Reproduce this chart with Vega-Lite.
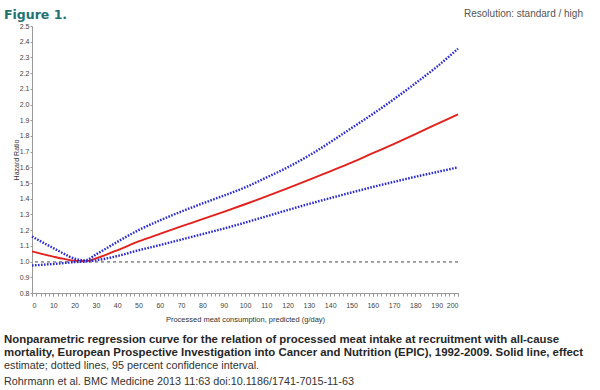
{
  "$schema": "https://vega.github.io/schema/vega-lite/v6.json",
  "background": "white",
  "padding": {"left": 4, "top": 8, "right": 4, "bottom": 2},
  "config": {"view": {"stroke": null}, "font": "Liberation Sans", "concat": {"spacing": 0}, "axisY": {"labelOverlap": false, "labelSeparation": 0}, "axis": {"labelOverlap": false}},
  "title": {"text": "Figure 1.", "anchor": "start", "frame": "bounds", "font": "DejaVu Sans", "fontSize": 12.5, "fontWeight": "bold", "color": "#1e7272", "offset": -12},
  "vconcat": [
    {
      "title": {"text": "Resolution: standard / high", "anchor": "start", "frame": "group", "fontSize": 10, "fontWeight": "normal", "color": "#555555", "dx": 432, "offset": 3},
      "vconcat": [
        {
          "width": 426,
          "height": 267,
          "title": {
            "text": ["Nonparametric regression curve for the relation of processed meat intake at recruitment with all-cause", "mortality, European Prospective Investigation into Cancer and Nutrition (EPIC), 1992-2009. Solid line, effect"],
            "subtitle": ["estimate; dotted lines, 95 percent confidence interval.", "Rohrmann et al. BMC Medicine 2013 11:63   doi:10.1186/1741-7015-11-63"],
            "orient": "bottom", "anchor": "start", "frame": "group", "dx": -28,
            "font": "Liberation Sans", "fontSize": 11.4, "fontWeight": "bold", "color": "#262626", "lineHeight": 13,
            "subtitleFont": "Liberation Sans", "subtitleFontSize": 10.8, "subtitleColor": "#333333", "subtitleLineHeight": 16, "subtitlePadding": 2,
            "offset": 11
          },
          "data": {"values": [
            {"x": 0, "est": 1.065, "upper": 1.160, "lower": 0.975},
            {"x": 5, "est": 1.048, "upper": 1.122, "lower": 0.980},
            {"x": 10, "est": 1.032, "upper": 1.086, "lower": 0.985},
            {"x": 15, "est": 1.017, "upper": 1.050, "lower": 0.991},
            {"x": 20, "est": 1.005, "upper": 1.018, "lower": 0.997},
            {"x": 25, "est": 1.002, "upper": 1.008, "lower": 1.000},
            {"x": 30, "est": 1.020, "upper": 1.045, "lower": 1.008},
            {"x": 35, "est": 1.045, "upper": 1.085, "lower": 1.020},
            {"x": 40, "est": 1.072, "upper": 1.125, "lower": 1.035},
            {"x": 50, "est": 1.128, "upper": 1.200, "lower": 1.072},
            {"x": 60, "est": 1.177, "upper": 1.262, "lower": 1.105},
            {"x": 70, "est": 1.224, "upper": 1.318, "lower": 1.140},
            {"x": 80, "est": 1.270, "upper": 1.370, "lower": 1.175},
            {"x": 90, "est": 1.317, "upper": 1.420, "lower": 1.210},
            {"x": 100, "est": 1.365, "upper": 1.472, "lower": 1.248},
            {"x": 110, "est": 1.415, "upper": 1.535, "lower": 1.288},
            {"x": 120, "est": 1.467, "upper": 1.600, "lower": 1.328},
            {"x": 130, "est": 1.520, "upper": 1.675, "lower": 1.367},
            {"x": 140, "est": 1.575, "upper": 1.760, "lower": 1.404},
            {"x": 150, "est": 1.630, "upper": 1.850, "lower": 1.440},
            {"x": 160, "est": 1.690, "upper": 1.940, "lower": 1.475},
            {"x": 170, "est": 1.750, "upper": 2.035, "lower": 1.508},
            {"x": 180, "est": 1.812, "upper": 2.135, "lower": 1.540},
            {"x": 190, "est": 1.875, "upper": 2.240, "lower": 1.570},
            {"x": 200, "est": 1.938, "upper": 2.355, "lower": 1.600}
          ]},
          "layer": [
            {
              "mark": {"type": "line", "color": "#e3211c", "strokeWidth": 1.9, "interpolate": "monotone"},
              "encoding": {
                "x": {"field": "x", "type": "quantitative",
                  "scale": {"domain": [0, 200], "nice": false, "zero": false},
                  "axis": {"orient": "bottom", "values": [0,10,20,30,40,50,60,70,80,90,100,110,120,130,140,150,160,170,180,190,200], "labelFontSize": 7, "labelColor": "#444444", "tickSize": 3, "tickColor": "#999999", "domainColor": "#999999", "grid": false, "labelPadding": 5, "title": "Processed meat consumption, predicted (g/day)", "titleFontSize": 7.5, "titleFontWeight": "normal", "titleColor": "#333333", "titlePadding": 7}},
                "y": {"field": "est", "type": "quantitative",
                  "scale": {"domain": [0.8, 2.5], "nice": false, "zero": false},
                  "axis": {"tickCount": 17, "format": ".1f", "labelOverlap": false, "labelFontSize": 7, "labelColor": "#444444", "tickSize": 2, "tickColor": "#999999", "domainColor": "#999999", "grid": false, "labelPadding": 1, "title": "Hazard Ratio", "titleFontSize": 7, "titleFontWeight": "normal", "titleColor": "#333333", "titlePadding": 0}}
              }
            },
            {
              "mark": {"type": "rule", "color": "#999999", "strokeWidth": 0.8, "strokeDash": [3, 3]},
              "encoding": {
                "y": {"datum": 1, "type": "quantitative"}
              }
            },
            {
              "mark": {"type": "line", "color": "#2a2ad0", "strokeWidth": 2.4, "strokeDash": [1.6, 1.4], "interpolate": "monotone"},
              "encoding": {
                "x": {"field": "x", "type": "quantitative",
                  "axis": {"orient": "bottom", "values": [0,2,4,6,8,10,12,14,16,18,20,22,24,26,28,30,32,34,36,38,40,42,44,46,48,50,52,54,56,58,60,62,64,66,68,70,72,74,76,78,80,82,84,86,88,90,92,94,96,98,100,102,104,106,108,110,112,114,116,118,120,122,124,126,128,130,132,134,136,138,140,142,144,146,148,150,152,154,156,158,160,162,164,166,168,170,172,174,176,178,180,182,184,186,188,190,192,194,196,198,200], "labels": false, "domain": false, "tickSize": 3, "tickColor": "#999999", "title": null, "grid": false}},
                "y": {"field": "upper", "type": "quantitative"}
              }
            },
            {
              "mark": {"type": "line", "color": "#2a2ad0", "strokeWidth": 2.4, "strokeDash": [1.6, 1.4], "interpolate": "monotone"},
              "encoding": {"x": {"field": "x", "type": "quantitative", "axis": null}, "y": {"field": "lower", "type": "quantitative"}}
            }
          ],
          "resolve": {"axis": {"x": "independent"}}
        }
      ]
    }
  ]
}
